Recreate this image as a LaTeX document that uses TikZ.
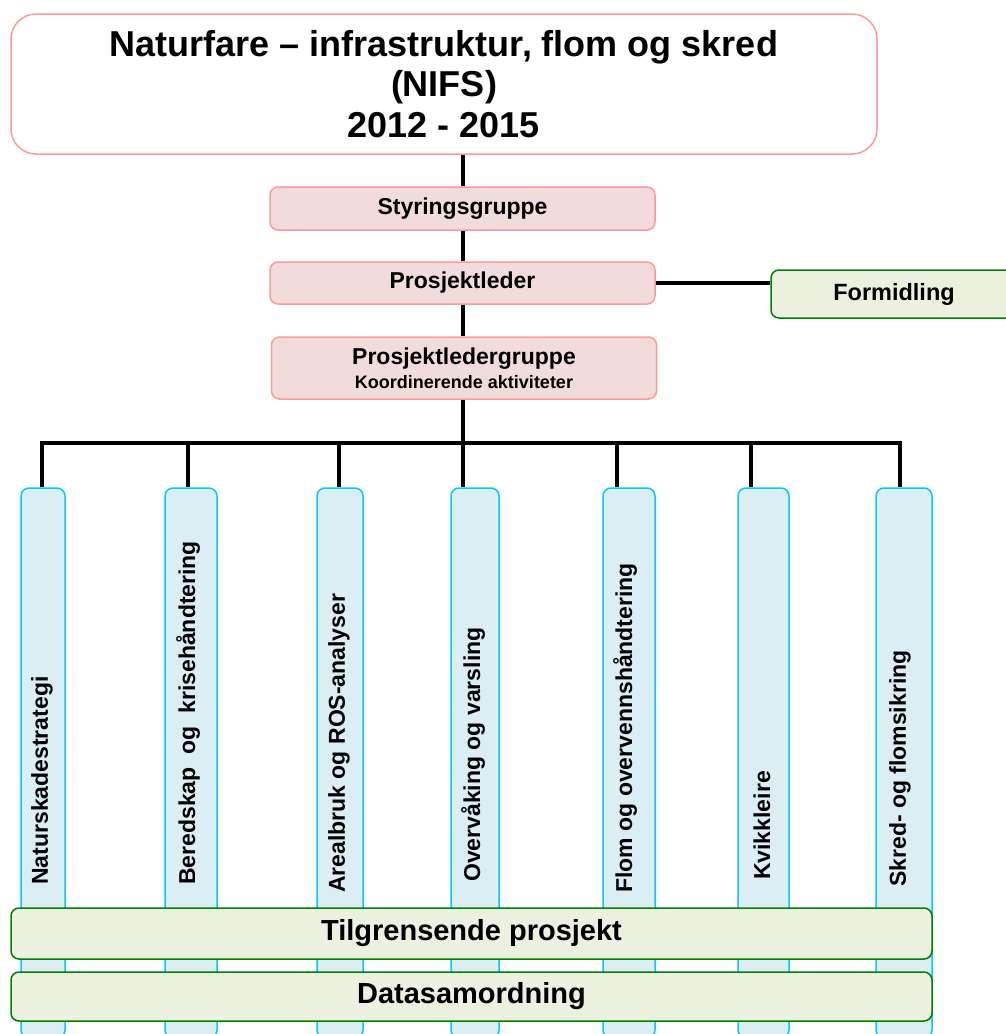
\documentclass[tikz,border=0pt]{standalone}
\usepackage{fontspec}
\setmainfont{Liberation Sans}
\usetikzlibrary{positioning}
\definecolor{pinkline}{RGB}{255,153,153}
\definecolor{pinkfill}{RGB}{242,220,219}
\definecolor{blueline}{RGB}{0,204,255}
\definecolor{bluefill}{RGB}{218,238,243}
\definecolor{greenline}{RGB}{0,128,0}
\definecolor{greenfill}{RGB}{235,241,222}

\begin{document}
\begin{tikzpicture}[x=1pt,y=-1pt,
    headbox/.style={draw=pinkline,fill=white,line width=1.5pt,rounded corners=25pt,
        minimum width=866pt,minimum height=140pt,inner sep=0pt,align=center,
        font=\bfseries\fontsize{36}{40.5}\selectfont},
    leadbox/.style={draw=pinkline,fill=pinkfill,line width=1.5pt,rounded corners=8pt,
        minimum width=385pt,inner sep=0pt,align=center,font=\bfseries\fontsize{23}{26}\selectfont},
    greenbox/.style={draw=greenline,fill=greenfill,line width=1.5pt,rounded corners=8pt,
        inner sep=0pt,align=center},
    colbox/.style={draw=blueline,fill=bluefill,line width=1.5pt,rounded corners=8pt,
        minimum height=550pt,inner sep=0pt},
    coltext/.style={rotate=90,anchor=west,inner sep=0pt,font=\bfseries\fontsize{23}{26}\selectfont},
    conn/.style={line width=4pt}]
  \clip (0,0) rectangle (1006,1034);

  % columns
  \node[colbox,minimum width=44pt] (c1) at (43,763) {};
  \node[colbox,minimum width=52pt] (c2) at (191,763) {};
  \node[colbox,minimum width=46pt] (c3) at (340,763) {};
  \node[colbox,minimum width=48pt] (c4) at (475,763) {};
  \node[colbox,minimum width=52pt] (c5) at (629,763) {};
  \node[colbox,minimum width=51pt] (c6) at (763.5,763) {};
  \node[colbox,minimum width=56pt] (c7) at (904,763) {};

  \node[coltext] (t1) at (42,885) {Naturskadestrategi};
  \node[coltext] (t2) at (188,885) {Beredskap\ \ og\ \ krisehåndtering};
  \node[coltext] (t3) at (339,893) {Arealbruk og ROS-analyser};
  \node[coltext] (t4) at (473,882) {Overvåking og varsling};
  \node[coltext] (t5) at (625,893) {Flom og overvennshåndtering};
  \node[coltext] (t6) at (762,880) {Kvikkleire};
  \node[coltext] (t7) at (900,887) {Skred- og flomsikring};

  \node[greenbox,minimum width=921pt,minimum height=51pt,font=\bfseries\fontsize{29}{32}\selectfont]
      (tilgr) at (471.5,933.5) {Tilgrensende prosjekt};
  \node[greenbox,minimum width=921pt,minimum height=49pt,font=\bfseries\fontsize{29}{32}\selectfont]
      (data) at (471.5,996.5) {Datasamordning};

  % top of the chart
  \node[headbox] (nifs) at (444,84) {Naturfare -- infrastruktur, flom og skred\\(NIFS)\\2012 - 2015};
  \node[leadbox,minimum height=43pt] (styr) at (462.5,208.5) {Styringsgruppe};
  \node[leadbox,minimum height=42pt] (pl) at (462.5,283) {Prosjektleder};
  \node[leadbox,minimum height=62pt] (plg) at (464,368)
      {Prosjektledergruppe\\[-2pt]{\fontsize{18}{20}\selectfont Koordinerende aktiviteter}};
  \node[greenbox,minimum width=246pt,minimum height=48pt,font=\bfseries\fontsize{23.5}{26}\selectfont]
      (form) at (894,294) {Formidling};

  \coordinate (bar) at (463,443);
  \draw[conn] (styr.north) -- (styr.north |- nifs.south);
  \draw[conn] (styr) -- (pl);
  \draw[conn] (pl) -- (pl |- plg.north);
  \draw[conn] (pl.east) -- (pl.east -| form.west);
  \draw[conn] (plg.south -| bar) -- (bar);
  \foreach \i/\dx in {1/-1,2/-3,3/-1,4/-12,5/-12,6/-12.5,7/-4}
    \draw[conn] (bar) -| ([xshift=\dx pt]c\i.north);
\end{tikzpicture}
\end{document}
